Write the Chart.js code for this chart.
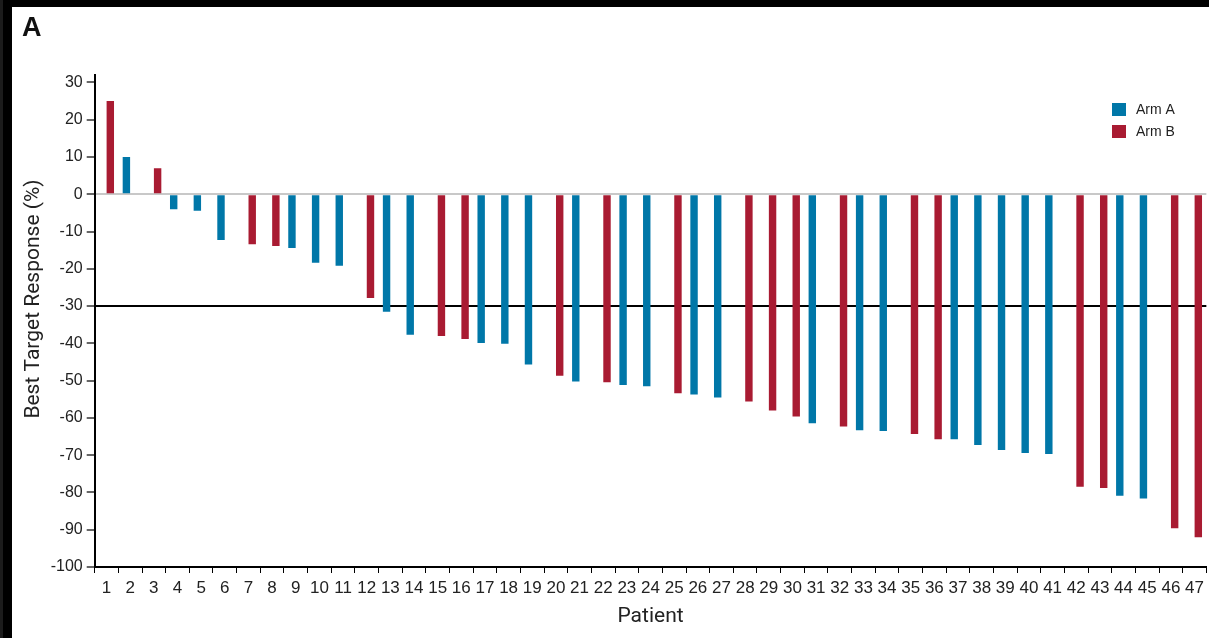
<!DOCTYPE html>
<html>
<head>
<meta charset="utf-8">
<script src="https://cdn.jsdelivr.net/npm/chart.js@4.4.1/dist/chart.umd.min.js"></script>
<style>
  html, body { margin: 0; padding: 0; background: #000; }
  canvas { display: block; }
</style>
</head>
<body>
<canvas id="c" width="1209" height="638"></canvas>
<script>
// ---- Data ----
const patients = Array.from({length: 47}, (_, i) => String(i + 1));
const armA = [null, 10, null, -4, -4.4, -12.3, null, null, -14.4, -18.4,
              -19.2, null, -31.5, -37.7, null, null, -39.9, -40.1, -45.7, null,
              -50.2, null, -51.2, -51.5, null, -53.7, -54.5, null, null, null,
              -61.4, null, -63.3, -63.5, null, null, -65.7, -67.3, -68.6, -69.4,
              -69.7, null, null, -80.9, -81.6, null, null];
const armB = [25, null, 7, null, null, null, -13.4, -13.9, null, null,
              null, -27.8, null, null, -38.0, -38.8, null, null, null, -48.7,
              null, -50.4, null, null, -53.4, null, null, -55.6, -58.0, -59.6,
              null, -62.3, null, null, -64.3, -65.7, null, null, null, null,
              null, -78.5, -78.8, null, null, -89.6, -92.0];
const seriesNames = ['Arm A', 'Arm B'];
const seriesColors = ['#0077a8', '#a91b32'];
const yTitle = 'Best Target Response (%)';
const xTitle = 'Patient';
const panelLabel = 'A';

const frame = {
  id: 'frame',
  beforeDraw(chart) {
    const ctx = chart.ctx;
    ctx.save();
    ctx.fillStyle = '#000';
    ctx.fillRect(0, 0, chart.width, chart.height);
    ctx.fillStyle = '#1c1c1c';
    ctx.fillRect(0, 0, 3, chart.height);
    ctx.fillStyle = '#fff';
    ctx.fillRect(12, 7, chart.width - 12, chart.height - 7);
    ctx.restore();
  },
  afterDraw(chart) {
    const ctx = chart.ctx;
    ctx.save();
    // panel label
    ctx.fillStyle = '#111';
    ctx.font = 'bold 27px "Liberation Sans", Arial, sans-serif';
    ctx.textBaseline = 'alphabetic';
    ctx.textAlign = 'left';
    ctx.fillText(panelLabel, 22, 36);
    // y title
    ctx.save();
    ctx.translate(34, 299);
    ctx.rotate(-Math.PI / 2);
    ctx.font = '21px Roboto, "Liberation Sans", sans-serif';
    ctx.fillStyle = '#222';
    ctx.textAlign = 'center';
    ctx.textBaseline = 'middle';
    ctx.fillText(yTitle, 0, 0);
    ctx.restore();
    // legend
    ctx.font = '14px "Liberation Sans", Arial, sans-serif';
    ctx.textAlign = 'left';
    ctx.textBaseline = 'middle';
    chart.data.datasets.forEach((ds, i) => {
      const y = 103 + i * 22;
      ctx.fillStyle = ds.backgroundColor;
      ctx.fillRect(1112, y, 14, 13);
      ctx.fillStyle = '#222';
      ctx.fillText(ds.label, 1136, y + 7);
    });
    ctx.restore();
  }
};

new Chart(document.getElementById('c'), {
  type: 'bar',
  data: {
    labels: patients,
    datasets: [
      { label: seriesNames[0], data: armA, backgroundColor: seriesColors[0], borderWidth: 0 },
      { label: seriesNames[1], data: armB, backgroundColor: seriesColors[1], borderWidth: 0 }
    ]
  },
  options: {
    responsive: false,
    animation: false,
    categoryPercentage: 0.64,
    barPercentage: 0.98,
    layout: { padding: { left: 0, top: 75, right: 1.7, bottom: 0 } },
    plugins: {
      legend: { display: false },
      tooltip: { enabled: false }
    },
    scales: {
      x: {
        offset: true,
        grid: {
          offset: true,
          drawOnChartArea: false,
          drawTicks: true,
          tickLength: 6,
          tickColor: '#000',
          tickWidth: 1
        },
        border: { display: true, color: '#000', width: 2 },
        ticks: {
          color: '#222',
          font: { family: '"Liberation Sans", Arial, sans-serif', size: 17 },
          padding: 5,
          maxRotation: 0,
          autoSkip: false
        },
        title: {
          display: true,
          text: xTitle,
          color: '#222',
          font: { family: 'Roboto, "Liberation Sans", sans-serif', size: 21 },
          padding: { top: 0, bottom: 9 }
        },
        afterFit(scale) { scale.height = 71; }
      },
      y: {
        min: -100,
        max: 32,
        grid: {
          drawOnChartArea: true,
          drawTicks: true,
          tickLength: 8,
          tickColor: '#000',
          tickWidth: 1.2,
          color: (ctx) => {
            if (ctx.tick && ctx.tick.value === 0) return '#c8c8c8';
            if (ctx.tick && ctx.tick.value === -30) return '#000';
            return 'rgba(0,0,0,0)';
          },
          lineWidth: (ctx) => {
            if (ctx.tick && (ctx.tick.value === 0 || ctx.tick.value === -30)) return 2;
            return 0;
          }
        },
        border: { display: true, color: '#000', width: 2 },
        ticks: {
          stepSize: 10,
          includeBounds: false,
          color: '#222',
          font: { family: '"Liberation Sans", Arial, sans-serif', size: 16 },
          padding: 4
        },
        afterFit(scale) { scale.width = 94.7; }
      }
    }
  },
  plugins: [frame]
});
</script>
</body>
</html>
